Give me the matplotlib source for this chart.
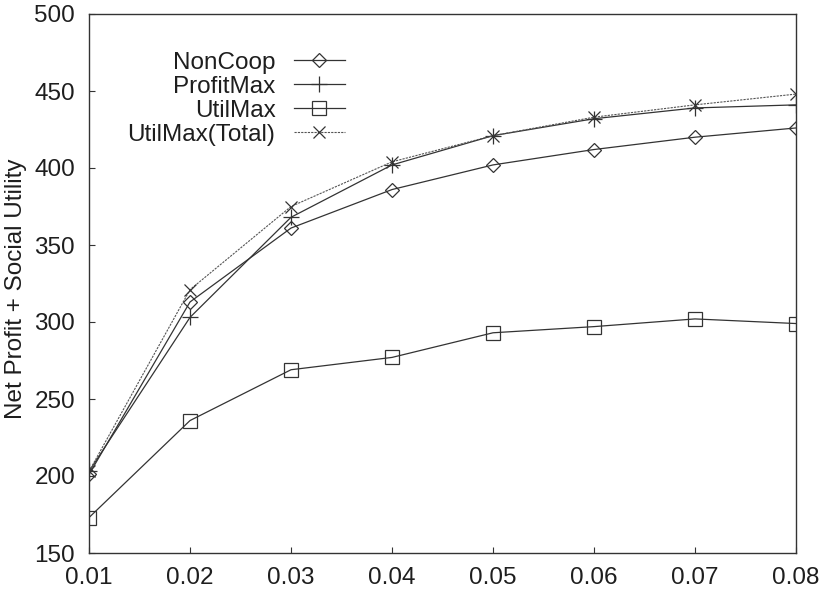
import matplotlib
matplotlib.use("Agg")
import matplotlib.pyplot as plt

plt.rcParams['font.family'] = ['Liberation Sans', 'DejaVu Sans']

# price step
x = [0.01, 0.02, 0.03, 0.04, 0.05, 0.06, 0.07, 0.08]

non_coop = [201, 313, 361, 386, 402, 412, 420, 426]
profit_max = [203, 303, 368, 402, 421, 432, 439, 441]
util_max = [173, 236, 269, 277, 293, 297, 302, 299]
util_max_total = [203, 321, 375, 404, 421, 433, 441, 448]

xticks = [0.01, 0.02, 0.03, 0.04, 0.05, 0.06, 0.07, 0.08]
xtick_labels = ["0.01", "0.02", "0.03", "0.04", "0.05", "0.06", "0.07", "0.08"]
yticks = [150, 200, 250, 300, 350, 400, 450, 500]

ink = "#333333"
txt = "#1e1e1e"

fig = plt.figure(figsize=(8.2, 5.97), dpi=100)
ax = fig.add_axes([89 / 820, 44 / 597, 707 / 820, 539 / 597])

ax.plot(x, non_coop, color=ink, lw=0.9, marker="D", ms=6.8,
        mfc="none", mec=ink, mew=0.9, label="NonCoop")
ax.plot(x, profit_max, color=ink, lw=0.9, marker="+", ms=11,
        mew=0.9, label="ProfitMax")
ax.plot(x, util_max, color=ink, lw=0.9, marker="s", ms=10.5,
        mfc="none", mec=ink, mew=0.9, label="UtilMax")
ax.plot(x, util_max_total, color="#555555", lw=0.8, dashes=(2, 1),
        marker="x", ms=9, mec=ink, mew=0.9, label="UtilMax(Total)")

ax.set_xlim(0.01, 0.08)
ax.set_ylim(150, 500)
ax.set_xticks(xticks)
ax.set_xticklabels(xtick_labels)
ax.set_yticks(yticks)
ax.tick_params(direction="in", length=4, width=0.8, color=ink,
               labelsize=17.5, labelcolor=txt)
ax.tick_params(axis="x", pad=10)
ax.tick_params(axis="y", pad=10)
for sp in ax.spines.values():
    sp.set_color(ink)
    sp.set_linewidth(1.0)

fig.text(16 / 820, 1 - 289 / 597, "Net Profit + Social Utility",
         rotation=90, ha="center", va="center", fontsize=17.5, color=txt)

leg = ax.legend(loc="upper right", bbox_to_anchor=(0.362, 0.93),
                frameon=False, markerfirst=False, fontsize=17.5,
                handlelength=2.1, handletextpad=0.76, labelspacing=0.08,
                borderpad=0, borderaxespad=0)
for t in leg.get_texts():
    t.set_color(txt)

fig.savefig("out.png", dpi=100)
